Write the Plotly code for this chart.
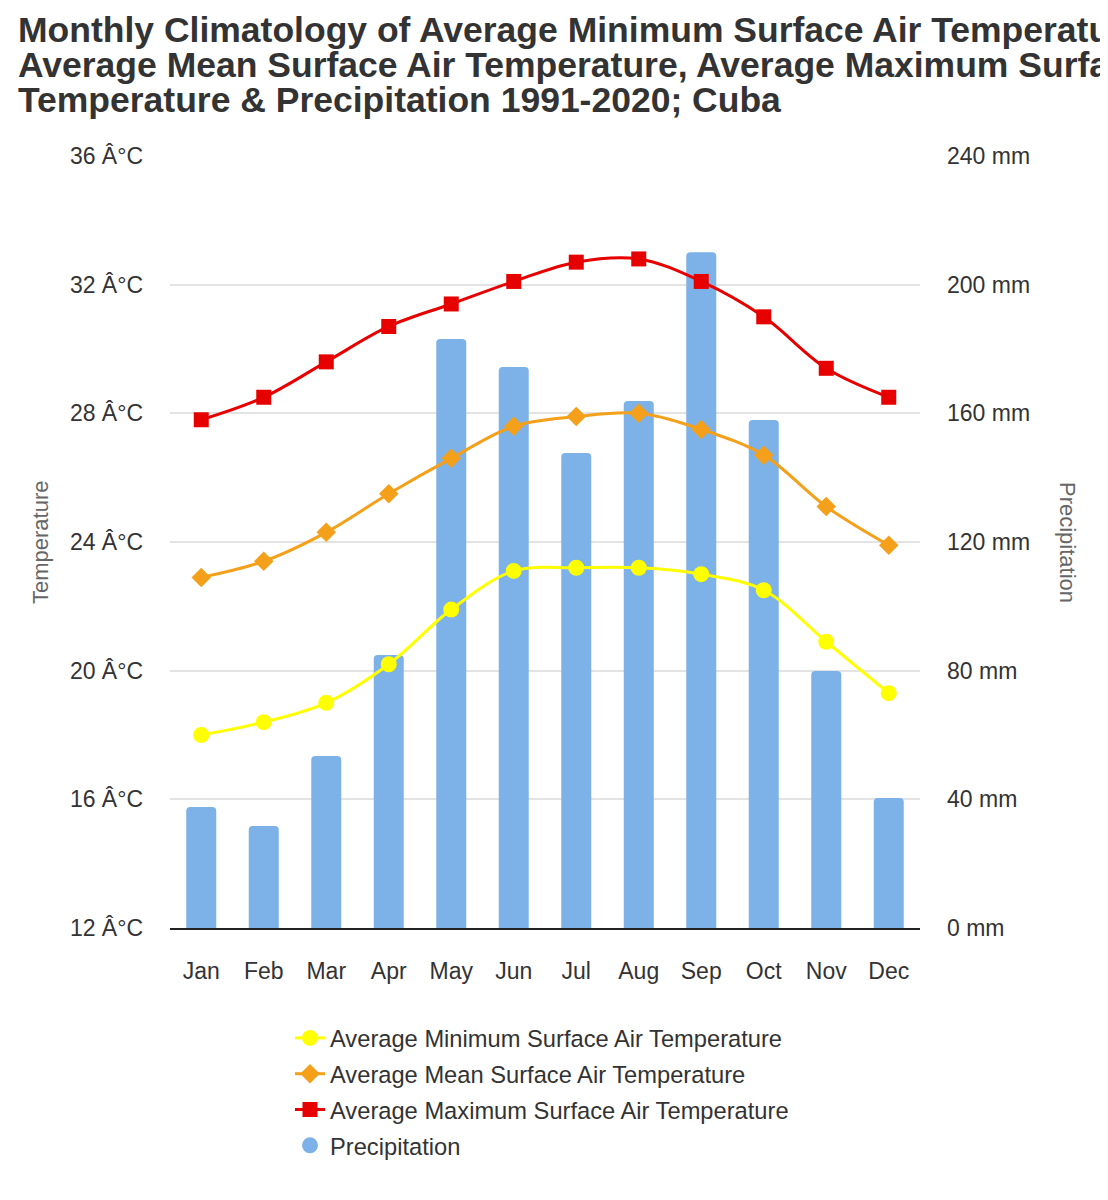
import plotly.graph_objects as go

# Monthly climatology values (Cuba, 1991-2020)
months = ["Jan", "Feb", "Mar", "Apr", "May", "Jun", "Jul", "Aug", "Sep", "Oct", "Nov", "Dec"]
temp_min = [18.0, 18.4, 19.0, 20.2, 21.9, 23.1, 23.2, 23.2, 23.0, 22.5, 20.9, 19.3]
temp_mean = [22.9, 23.4, 24.3, 25.5, 26.6, 27.6, 27.9, 28.0, 27.5, 26.7, 25.1, 23.9]
temp_max = [27.8, 28.5, 29.6, 30.7, 31.4, 32.1, 32.7, 32.8, 32.1, 31.0, 29.4, 28.5]
precip = [37.6, 31.7, 53.5, 84.9, 183.1, 174.4, 147.7, 163.8, 210.1, 157.9, 79.9, 40.4]

temp_ticks = [12, 16, 20, 24, 28, 32, 36]
precip_ticks = [0, 40, 80, 120, 160, 200, 240]

title_lines = [
    "Monthly Climatology of Average Minimum Surface Air Temperature,",
    "Average Mean Surface Air Temperature, Average Maximum Surface Air",
    "Temperature & Precipitation 1991-2020; Cuba",
]

textCol = "#333333"
fontFam = "Liberation Sans, Arial, sans-serif"
W, H = 1108, 1200
# plot box inside the figure (page adds ~8px body margin)
L, T, PW, PH = 162, 148, 750, 772

fig = go.Figure()

# bars on the primary (right side) axis so the lines, on the overlaying axis, sit on top
fig.add_trace(go.Bar(
    x=months, y=precip, name="Precipitation", yaxis="y",
    marker=dict(color="#7cb2e8", line=dict(width=0), cornerradius=4),
    showlegend=False,
))

fig.add_trace(go.Scatter(
    x=months, y=temp_min, name="Average Minimum Surface Air Temperature", yaxis="y2",
    mode="lines+markers", line=dict(color="#ffff00", width=3, shape="spline"),
    marker=dict(symbol="circle", size=16, color="#ffff00"),
    legendgroup="a",
))
fig.add_trace(go.Scatter(
    x=months, y=temp_mean, name="Average Mean Surface Air Temperature", yaxis="y2",
    mode="lines+markers", line=dict(color="#f4a01a", width=3, shape="spline"),
    marker=dict(symbol="diamond", size=15, color="#f4a01a"),
    legendgroup="b",
))
fig.add_trace(go.Scatter(
    x=months, y=temp_max, name="Average Maximum Surface Air Temperature", yaxis="y2",
    mode="lines+markers", line=dict(color="#e60000", width=3, shape="spline"),
    marker=dict(symbol="square", size=15, color="#e60000"),
    legendgroup="c",
))

# legend entry for the bars drawn as a circle, like the original
fig.add_trace(go.Scatter(
    x=[None], y=[None], name="Precipitation", mode="markers", yaxis="y2",
    marker=dict(symbol="circle", size=21, color="#7cb2e8"),
    legendgroup="d",
))

# title lines as separate annotations so line spacing can be tight
annotations = []
for i, line in enumerate(title_lines):
    annotations.append(dict(
        text="<b>" + line + "</b>", showarrow=False,
        xref="paper", yref="paper",
        x=(8 - L) / PW, xanchor="left",
        y=1 + (T - (22 + 35 * i)) / PH, yanchor="middle",
        font=dict(size=35.5, color=textCol, family=fontFam),
    ))

annotations += [
    dict(text="Temperature", textangle=-90, showarrow=False,
         xref="paper", yref="paper", x=(32 - L) / PW, y=0.5,
         xanchor="center", yanchor="middle",
         font=dict(size=22, color="#666")),
    dict(text="Precipitation", textangle=90, showarrow=False,
         xref="paper", yref="paper", x=1 + (1060 - L - PW) / PW, y=0.5,
         xanchor="center", yanchor="middle",
         font=dict(size=22, color="#666")),
]

fig.update_layout(
    width=W, height=H,
    plot_bgcolor="#fff", paper_bgcolor="#fff",
    margin=dict(l=L, r=W - L - PW, t=T, b=H - T - PH, autoexpand=False),
    font=dict(family=fontFam, size=23, color=textCol),
    xaxis=dict(
        range=[-0.5, 11.5],
        showgrid=False, showline=True, linecolor="#222", linewidth=1.5,
        ticks="", ticklabelstandoff=22,
        tickfont=dict(size=23, color=textCol),
    ),
    yaxis=dict(
        range=[0, 240], tickvals=precip_ticks,
        ticktext=[str(v) + " mm" for v in precip_ticks],
        side="right",
        showgrid=True, gridcolor="#e3e3e3", gridwidth=1.5, zeroline=False,
        ticks="", ticklabelstandoff=26,
        tickfont=dict(size=23, color=textCol),
    ),
    yaxis2=dict(
        range=[12, 36], tickvals=temp_ticks,
        ticktext=[str(v) + " Â°C" for v in temp_ticks],
        overlaying="y", side="left", showgrid=False, zeroline=False,
        ticks="", ticklabelstandoff=26,
        tickfont=dict(size=23, color=textCol),
    ),
    bargap=0.52,
    showlegend=True,
    legend=dict(
        orientation="v",
        x=(282 - L) / PW, xanchor="left",
        y=(T + PH - 1008) / PH, yanchor="top",
        font=dict(size=23.7, color=textCol),
        tracegroupgap=2, itemsizing="trace",
    ),
    annotations=annotations,
)

fig.write_html("out.html")
